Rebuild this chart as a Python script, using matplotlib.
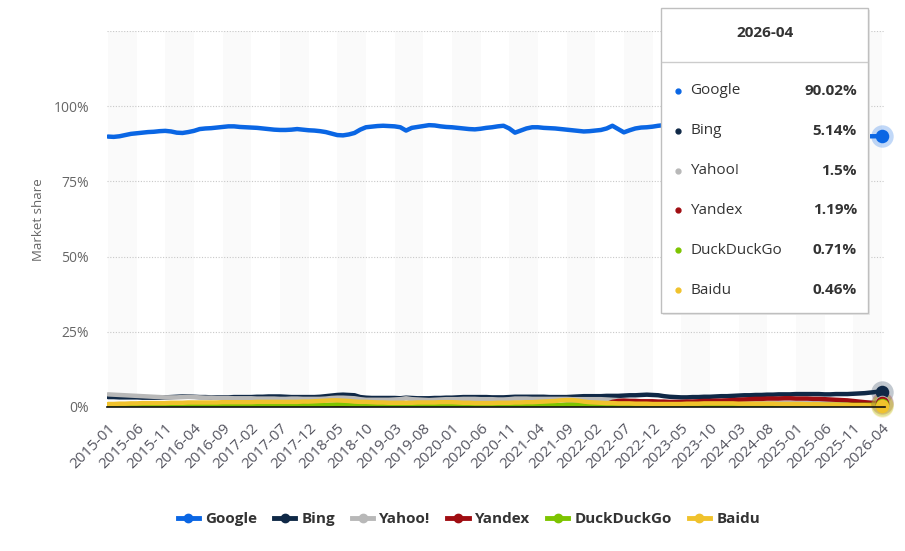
import matplotlib.pyplot as plt
from matplotlib.lines import Line2D
from matplotlib.patches import Rectangle
import numpy as np

plt.rcParams['font.family'] = ['Open Sans', 'DejaVu Sans']

# monthly values, 2015-01 .. 2026-04 (market share in %)
google = [
    89.9, 89.8, 90.0, 90.4, 90.8, 91.0, 91.2, 91.4, 91.5, 91.7, 91.8, 91.6,
    91.2, 91.1, 91.4, 91.8, 92.4, 92.6, 92.7, 92.9, 93.1, 93.3, 93.3, 93.1,
    93.0, 92.9, 92.8, 92.6, 92.4, 92.2, 92.1, 92.1, 92.2, 92.4, 92.2, 92.0,
    91.9, 91.7, 91.4, 90.9, 90.4, 90.3, 90.6, 91.1, 92.2, 93.0, 93.2, 93.4,
    93.5, 93.4, 93.3, 93.0, 91.9, 92.8, 93.1, 93.4, 93.7, 93.6, 93.3, 93.1,
    93.0, 92.8, 92.6, 92.4, 92.3, 92.5, 92.8, 93.0, 93.3, 93.5, 92.6, 91.2,
    91.9, 92.6, 93.0, 93.0, 92.8, 92.7, 92.6, 92.4, 92.2, 92.0, 91.8, 91.6,
    91.7, 91.9, 92.1, 92.6, 93.5, 92.4, 91.3, 92.0, 92.6, 92.9, 93.0, 93.2,
    93.5, 93.7, 93.4, 93.0, 92.6, 92.0, 91.6, 91.4, 91.5, 91.6, 91.7, 91.6,
    91.5, 91.3, 91.1, 90.9, 90.8, 90.9, 90.7, 90.5, 90.4, 90.2, 90.0, 89.8,
    89.7, 89.8, 89.7, 89.6, 89.6, 89.7, 89.8, 89.9, 90.0, 90.1, 90.0, 89.9,
    89.9, 90.0, 90.0, 90.02,
]
bing = [
    3.3, 3.3, 3.2, 3.2, 3.2, 3.2, 3.1, 3.1, 3.1, 3.1, 3.2, 3.3,
    3.4, 3.5, 3.5, 3.4, 3.3, 3.3, 3.2, 3.2, 3.2, 3.2, 3.3, 3.3,
    3.3, 3.3, 3.4, 3.4, 3.5, 3.5, 3.5, 3.4, 3.3, 3.3, 3.3, 3.3,
    3.3, 3.4, 3.6, 3.8, 4.0, 4.1, 4.0, 3.9, 3.3, 3.1, 3.0, 3.0,
    3.0, 3.0, 3.0, 2.9, 3.1, 3.0, 2.9, 2.9, 2.9, 3.0, 3.0, 3.1,
    3.1, 3.2, 3.3, 3.3, 3.3, 3.3, 3.3, 3.2, 3.2, 3.2, 3.3, 3.4,
    3.4, 3.4, 3.4, 3.4, 3.4, 3.3, 3.3, 3.3, 3.3, 3.4, 3.5, 3.6,
    3.6, 3.6, 3.6, 3.7, 3.7, 3.7, 3.8, 3.9, 3.9, 4.0, 4.1, 4.0,
    3.9, 3.6, 3.4, 3.3, 3.2, 3.2, 3.3, 3.3, 3.4, 3.4, 3.5, 3.6,
    3.6, 3.7, 3.8, 3.9, 3.9, 4.0, 4.0, 4.1, 4.1, 4.2, 4.2, 4.2,
    4.3, 4.3, 4.3, 4.3, 4.3, 4.2, 4.2, 4.3, 4.3, 4.3, 4.4, 4.5,
    4.6, 4.8, 5.0, 5.14,
]
yahoo = [
    4.2, 4.1, 4.0, 3.9, 3.8, 3.7, 3.6, 3.5, 3.4, 3.3, 3.2, 3.2,
    3.2, 3.3, 3.4, 3.3, 3.2, 3.1, 3.1, 3.0, 3.0, 3.0, 2.9, 2.9,
    2.9, 2.9, 2.8, 2.8, 2.8, 2.8, 2.7, 2.7, 2.8, 2.8, 2.7, 2.7,
    2.7, 2.7, 2.8, 3.0, 3.1, 3.1, 3.0, 2.9, 2.6, 2.4, 2.4, 2.4,
    2.4, 2.4, 2.5, 2.6, 2.9, 2.6, 2.5, 2.4, 2.3, 2.4, 2.5, 2.6,
    2.6, 2.6, 2.7, 2.7, 2.7, 2.6, 2.6, 2.6, 2.5, 2.5, 2.6, 2.8,
    2.8, 2.8, 2.7, 2.7, 2.7, 2.7, 2.7, 2.7, 2.7, 2.6, 2.6, 2.6,
    2.6, 2.6, 2.6, 2.5, 2.4, 2.3, 2.2, 2.1, 2.0, 1.9, 1.8, 1.7,
    1.6, 1.5, 1.5, 1.4, 1.4, 1.3, 1.3, 1.3, 1.3, 1.3, 1.3, 1.3,
    1.3, 1.3, 1.3, 1.3, 1.3, 1.3, 1.3, 1.3, 1.3, 1.3, 1.4, 1.4,
    1.4, 1.4, 1.4, 1.4, 1.4, 1.4, 1.4, 1.4, 1.4, 1.5, 1.5, 1.5,
    1.5, 1.5, 1.5, 1.5,
]
yandex = [
    0.5, 0.5, 0.5, 0.5, 0.5, 0.5, 0.5, 0.5, 0.5, 0.5, 0.5, 0.5,
    0.5, 0.5, 0.5, 0.5, 0.5, 0.5, 0.5, 0.5, 0.5, 0.5, 0.5, 0.5,
    0.5, 0.5, 0.5, 0.5, 0.5, 0.5, 0.6, 0.6, 0.6, 0.6, 0.6, 0.6,
    0.6, 0.6, 0.6, 0.6, 0.6, 0.6, 0.6, 0.6, 0.6, 0.6, 0.6, 0.6,
    0.6, 0.6, 0.6, 0.6, 0.6, 0.6, 0.6, 0.6, 0.6, 0.6, 0.6, 0.6,
    0.6, 0.6, 0.6, 0.6, 0.6, 0.6, 0.6, 0.6, 0.6, 0.6, 0.6, 0.6,
    0.6, 0.6, 0.6, 0.6, 0.6, 0.6, 0.6, 0.6, 0.7, 0.7, 0.7, 0.7,
    0.8, 0.8, 0.9, 1.0, 1.7, 2.0, 2.1, 2.0, 2.0, 1.9, 1.9, 1.9,
    1.8, 1.8, 1.7, 1.7, 1.7, 1.8, 1.8, 1.9, 2.0, 2.0, 2.1, 2.1,
    2.2, 2.3, 2.4, 2.5, 2.6, 2.7, 2.7, 2.8, 2.8, 2.8, 2.9, 2.9,
    2.8, 2.8, 2.8, 2.7, 2.7, 2.6, 2.5, 2.4, 2.3, 2.2, 2.0, 1.8,
    1.6, 1.4, 1.3, 1.19,
]
duckduckgo = [
    0.3, 0.3, 0.3, 0.3, 0.3, 0.4, 0.4, 0.4, 0.4, 0.4, 0.4, 0.4,
    0.4, 0.4, 0.4, 0.4, 0.4, 0.4, 0.4, 0.5, 0.5, 0.5, 0.5, 0.5,
    0.5, 0.5, 0.5, 0.5, 0.5, 0.5, 0.5, 0.5, 0.5, 0.5, 0.5, 0.6,
    0.6, 0.6, 0.7, 0.8, 0.9, 0.9, 0.8, 0.7, 0.6, 0.5, 0.5, 0.5,
    0.5, 0.5, 0.5, 0.5, 0.5, 0.5, 0.5, 0.6, 0.6, 0.6, 0.6, 0.6,
    0.6, 0.6, 0.6, 0.6, 0.6, 0.6, 0.6, 0.6, 0.6, 0.6, 0.6, 0.6,
    0.6, 0.6, 0.6, 0.6, 0.6, 0.6, 0.7, 0.7, 0.8, 0.8, 0.8, 0.8,
    0.8, 0.7, 0.7, 0.7, 0.6, 0.6, 0.6, 0.6, 0.6, 0.6, 0.6, 0.6,
    0.6, 0.6, 0.6, 0.6, 0.6, 0.6, 0.6, 0.6, 0.6, 0.6, 0.6, 0.6,
    0.6, 0.6, 0.6, 0.6, 0.6, 0.6, 0.6, 0.6, 0.6, 0.6, 0.6, 0.6,
    0.7, 0.7, 0.7, 0.7, 0.7, 0.7, 0.7, 0.7, 0.7, 0.7, 0.7, 0.7,
    0.7, 0.7, 0.7, 0.71,
]
baidu = [
    1.0, 1.0, 1.1, 1.1, 1.2, 1.2, 1.3, 1.3, 1.3, 1.3, 1.3, 1.4,
    1.4, 1.4, 1.5, 1.5, 1.5, 1.5, 1.5, 1.5, 1.6, 1.6, 1.6, 1.6,
    1.6, 1.6, 1.7, 1.7, 1.7, 1.7, 1.7, 1.7, 1.7, 1.7, 1.8, 1.8,
    1.9, 2.0, 2.1, 2.2, 2.2, 2.1, 2.0, 1.8, 1.7, 1.7, 1.6, 1.5,
    1.5, 1.4, 1.4, 1.4, 1.4, 1.4, 1.5, 1.5, 1.5, 1.5, 1.6, 1.6,
    1.6, 1.5, 1.4, 1.4, 1.3, 1.3, 1.3, 1.3, 1.4, 1.4, 1.4, 1.5,
    1.5, 1.6, 1.6, 1.7, 1.8, 1.9, 2.0, 2.2, 2.3, 2.3, 2.1, 1.8,
    1.6, 1.5, 1.4, 1.3, 1.3, 1.2, 1.2, 1.2, 1.1, 1.1, 1.1, 1.0,
    1.0, 1.0, 1.0, 1.0, 1.0, 1.1, 1.1, 1.1, 1.2, 1.2, 1.2, 1.2,
    1.2, 1.2, 1.1, 1.1, 1.1, 1.1, 1.1, 1.1, 1.1, 1.0, 1.0, 1.0,
    1.0, 1.0, 0.9, 0.9, 0.9, 0.8, 0.8, 0.8, 0.7, 0.7, 0.6, 0.6,
    0.6, 0.5, 0.5, 0.46,
]

months = [f'{2015 + i // 12}-{i % 12 + 1:02d}' for i in range(len(google))]
names = ['Google', 'Bing', 'Yahoo!', 'Yandex', 'DuckDuckGo', 'Baidu']
series = [google, bing, yahoo, yandex, duckduckgo, baidu]
colors = ['#0a66e4', '#0f2846', '#b8b8b8', '#a00d12', '#7dc400', '#f0c22c']
tip_values = ['90.02%', '5.14%', '1.5%', '1.19%', '0.71%', '0.46%']

W, H = 905, 551
fig = plt.figure(figsize=(W / 100, H / 100), dpi=100)
ax = fig.add_axes([107 / W, 1 - 407 / H, 778 / W, 376 / H])

x = np.arange(len(google))
ax.set_xlim(-0.17, 135.55)
ax.set_ylim(0, 125)

# alternating bands
for start in range(0, len(google), 10):
    ax.axvspan(start, min(start + 5, 135.55), color='#fafafa', lw=0, zorder=0)

for yv in [25, 50, 75, 100, 125]:
    ax.axhline(yv, color='#c8c8c8', lw=0.8, ls=(0, (1, 1.5)), zorder=1)

for vals, c in zip(series, colors):
    ax.plot(x, vals, color=c, lw=3.2, solid_capstyle='round', zorder=3)

# hover markers on last point
for vals, c in zip(series, colors):
    ax.scatter([x[-1]], [vals[-1]], s=260, color=c, alpha=0.25, lw=0, zorder=4, clip_on=False)
    ax.scatter([x[-1]], [vals[-1]], s=95, color=c, lw=0, zorder=5, clip_on=False)

for s in ['top', 'right', 'left']:
    ax.spines[s].set_visible(False)
ax.spines['bottom'].set_color('#111111')
ax.spines['bottom'].set_linewidth(1.2)
ax.spines['bottom'].set_zorder(6)

ax.set_yticks([0, 25, 50, 75, 100])
ax.set_yticklabels(['0%', '25%', '50%', '75%', '100%'])
ax.tick_params(axis='y', length=0, pad=13, labelsize=10, labelcolor='#666666')

ticks = list(range(0, len(google), 5))
ax.set_xticks(ticks)
ax.set_xticklabels([months[i] for i in ticks], rotation=45, ha='right',
                   rotation_mode='anchor')
ax.tick_params(axis='x', length=0, pad=10, labelsize=11, labelcolor='#555560')

fig.text(38 / W, 1 - 220 / H, 'Market share', rotation=90, ha='center',
         va='center', fontsize=9.5, color='#666666')

# tooltip box
def fx(px):
    return px / W

def fy(py):
    return 1 - py / H

fig.add_artist(Rectangle((fx(663), fy(315)), 207 / W, 305 / H,
                         transform=fig.transFigure, facecolor='#e8e8e8',
                         edgecolor='none', zorder=9))
fig.add_artist(Rectangle((fx(661), fy(313)), 207 / W, 305 / H,
                         transform=fig.transFigure, facecolor='white',
                         edgecolor='#bfbfbf', lw=1, zorder=10))
fig.add_artist(Line2D([fx(662), fx(867)], [fy(62), fy(62)],
                      transform=fig.transFigure, color='#cccccc', lw=1, zorder=11))
fig.text(fx(765), fy(33), months[-1], ha='center', va='center', fontsize=11,
         fontweight='bold', color='#333333', zorder=12)
for i, (n, c, v) in enumerate(zip(names, colors, tip_values)):
    yy = fy(91 + i * 39.8)
    fig.add_artist(Line2D([fx(678)], [yy], marker='o', ms=3.5, color=c,
                          transform=fig.transFigure, zorder=12))
    fig.text(fx(690), yy, n, ha='left', va='center', fontsize=11,
             color='#333333', zorder=12)
    fig.text(fx(857), yy, v, ha='right', va='center', fontsize=11,
             fontweight='bold', color='#333333', zorder=12)

handles = [Line2D([0], [0], color=c, lw=3.5, marker='o', ms=6) for c in colors]
leg = fig.legend(handles, names, loc='center', ncol=6, frameon=False,
                 bbox_to_anchor=(0.518, 1 - 519 / H), handlelength=1.4,
                 handletextpad=0.4, columnspacing=1.1,
                 prop={'size': 11, 'weight': 'bold'})
for t in leg.get_texts():
    t.set_color('#333333')

fig.savefig('out.png', dpi=100)
